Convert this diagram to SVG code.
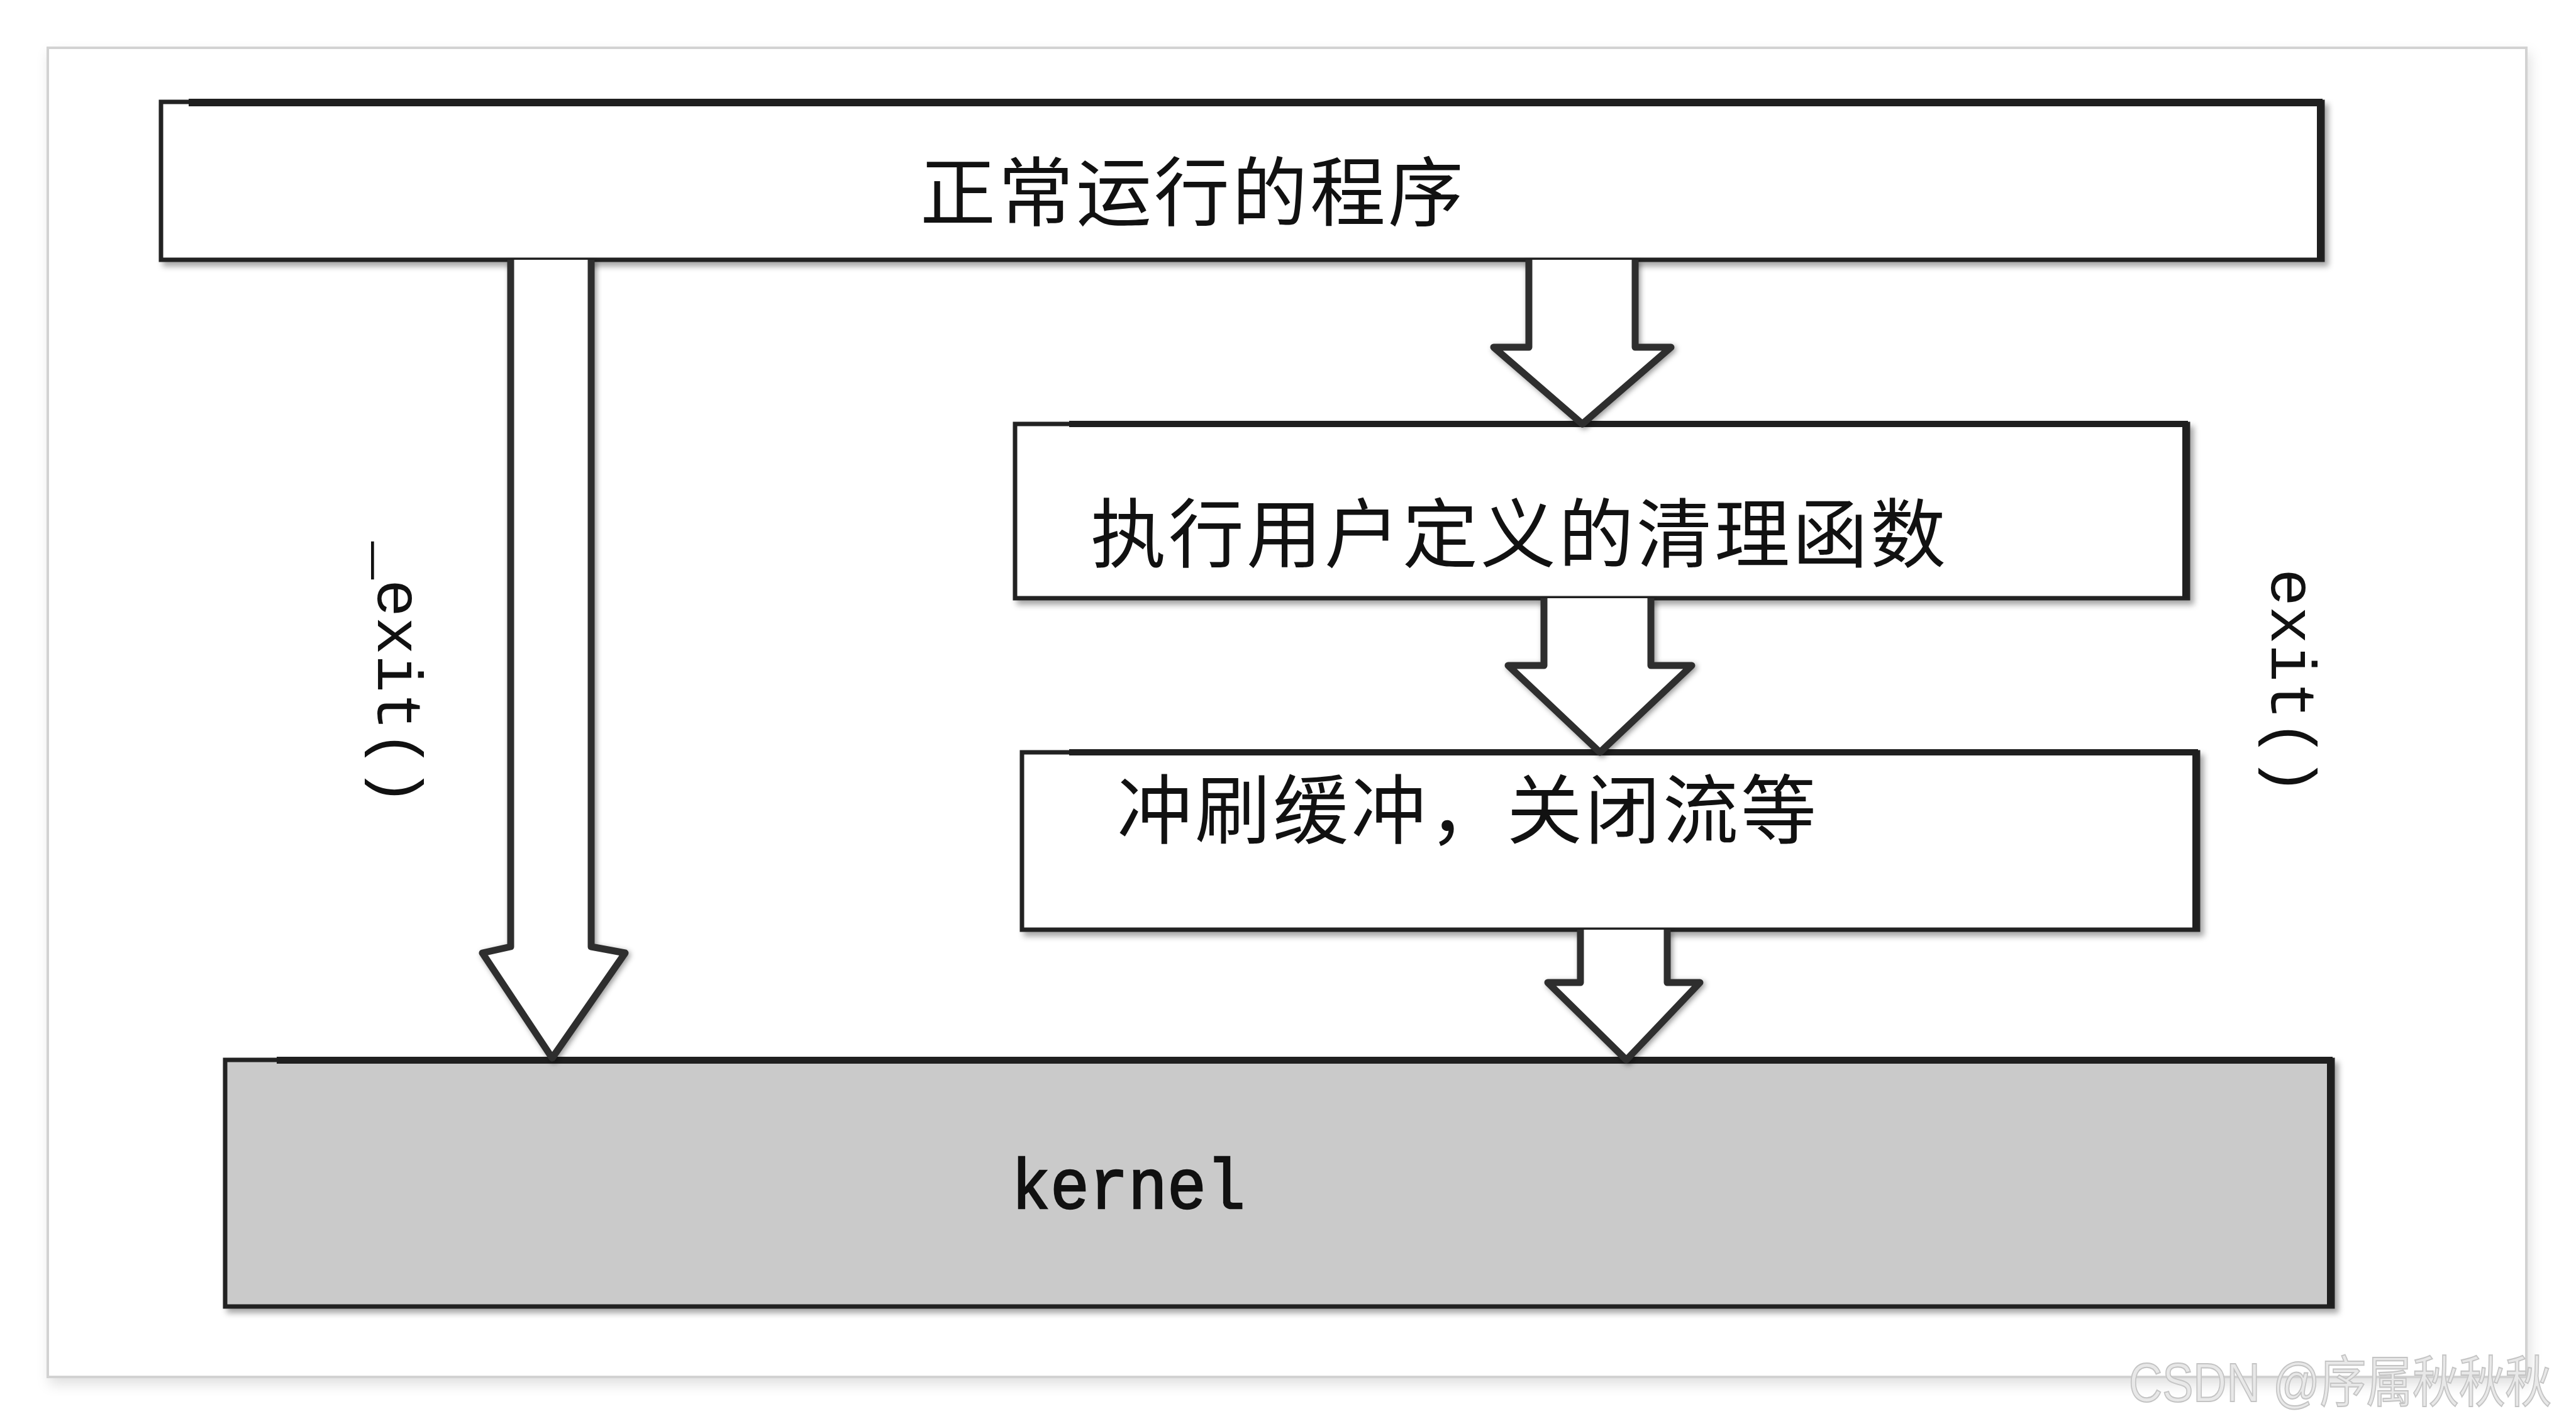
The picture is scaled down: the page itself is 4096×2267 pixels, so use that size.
<svg xmlns="http://www.w3.org/2000/svg" width="4096" height="2267" viewBox="0 0 4096 2267">
<defs>
<filter id="shadow" x="-5%" y="-20%" width="110%" height="140%">
<feDropShadow dx="6" dy="7" stdDeviation="5" flood-color="#000" flood-opacity="0.35"/>
</filter>
<filter id="ashadow" x="-20%" y="-10%" width="140%" height="120%">
<feDropShadow dx="3" dy="3" stdDeviation="4" flood-color="#000" flood-opacity="0.4"/>
</filter>
<filter id="frameShadow" x="-2%" y="-2%" width="104%" height="106%">
<feDropShadow dx="4" dy="10" stdDeviation="10" flood-color="#000" flood-opacity="0.12"/>
</filter>
</defs>
<style>
.box{fill:#ffffff;stroke:#222;stroke-width:7}
.kbox{fill:#cacaca;stroke:#222;stroke-width:7}
.edge{fill:#1f1f1f}
.arrow{fill:#ffffff;stroke:#2e2e2e;stroke-width:11;stroke-linejoin:round}
.cjk{font-family:"Noto Sans CJK SC","Noto Sans CJK JP",sans-serif;font-size:120px;fill:#111;letter-spacing:4px}
.mono{font-family:"Liberation Mono","DejaVu Sans Mono",monospace;font-size:100px;fill:#111}
</style>
<rect width="4096" height="2267" fill="#ffffff"/>
<rect id="frame" x="76" y="76" width="3941" height="2113" fill="#ffffff" stroke="#d2d2d2" stroke-width="4" filter="url(#frameShadow)"/>

<g id="node-program">
<rect class="box" x="256" y="162" width="3437" height="251" filter="url(#shadow)"/>
<rect class="edge" x="300" y="157" width="3393" height="12"/>
<rect class="edge" x="3684" y="162" width="10" height="251"/>
<text class="cjk" x="1463" y="298" dominant-baseline="central">正常运行的程序</text>
</g>

<g id="node-cleanup">
<rect class="box" x="1614" y="674" width="1865" height="277" filter="url(#shadow)"/>
<rect class="edge" x="1700" y="669" width="1779" height="10"/>
<rect class="edge" x="3470" y="674" width="10" height="277"/>
<text class="cjk" x="1734" y="841" dominant-baseline="central">执行用户定义的清理函数</text>
</g>

<g id="node-flush">
<rect class="box" x="1625" y="1196" width="1870" height="282" filter="url(#shadow)"/>
<rect class="edge" x="1700" y="1191" width="1795" height="10"/>
<rect class="edge" x="3486" y="1196" width="10" height="282"/>
<text class="cjk" x="1776" y="1280" dominant-baseline="central">冲刷缓冲，关闭流等</text>
</g>

<g id="node-kernel">
<rect class="kbox" x="358" y="1685" width="3351" height="392" filter="url(#shadow)"/>
<rect class="edge" x="440" y="1680" width="3269" height="11"/>
<rect class="edge" x="3700" y="1685" width="10" height="392"/>
<text x="1608" y="1921" font-family="Liberation Mono, Courier New, monospace" font-size="114" fill="#111" stroke="#111" stroke-width="2.5" textLength="372" lengthAdjust="spacingAndGlyphs">kernel</text>
</g>

<g id="connectors">
<path class="arrow" filter="url(#ashadow)" d="M812,413 L812,1505 L767,1515 L878,1682 L994,1515 L940,1505 L940,413"/>
<path class="arrow" filter="url(#ashadow)" d="M2431,413 L2431,552 L2375,552 L2516,674 L2657,552 L2600,552 L2600,413"/>
<path class="arrow" filter="url(#ashadow)" d="M2455,951 L2455,1058 L2398,1058 L2544,1196 L2690,1058 L2625,1058 L2625,951"/>
<path class="arrow" filter="url(#ashadow)" d="M2513,1478 L2513,1562 L2461,1562 L2586,1685 L2703,1562 L2651,1562 L2651,1478"/>
<text class="mono" x="601" y="861" transform="rotate(90 601 861)">_exit()</text>
<text class="mono" x="3612" y="904" transform="rotate(90 3612 904)">exit()</text>
</g>

<text id="watermark" x="3385" y="2228" font-family="Liberation Sans, Noto Sans CJK SC, sans-serif" font-size="88" fill="#e8e8e8" stroke="#c4c4c4" stroke-width="2" textLength="672" lengthAdjust="spacingAndGlyphs">CSDN @序属秋秋秋</text>
</svg>
